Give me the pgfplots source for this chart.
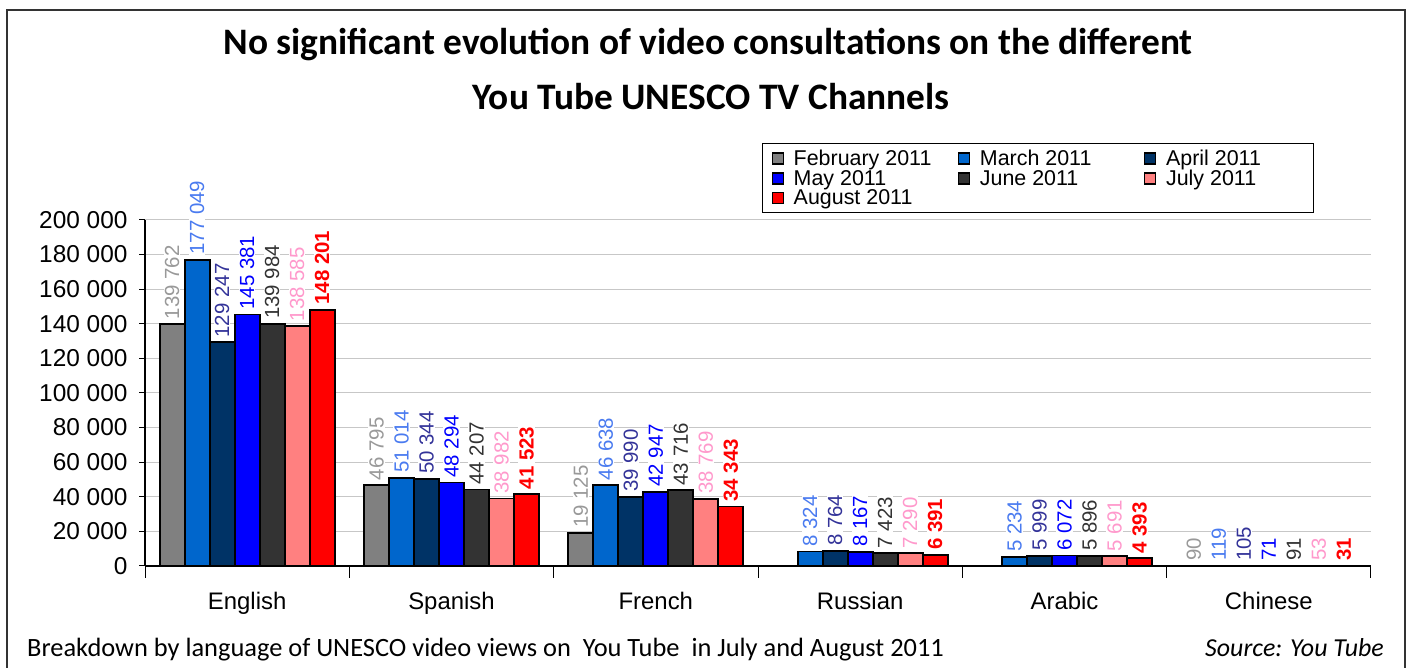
\documentclass[border=0pt]{standalone}
\usepackage{pgfplots}
\pgfplotsset{compat=1.18}
\usepackage{fontspec}
\setmainfont{Liberation Sans}
\newfontfamily\calibri{Carlito}
\definecolor{cFeb}{HTML}{808080}
\definecolor{cMar}{HTML}{0066CC}
\definecolor{cApr}{HTML}{003366}
\definecolor{cMay}{HTML}{0000FF}
\definecolor{cJun}{HTML}{333333}
\definecolor{cJul}{HTML}{FF8080}
\definecolor{cAug}{HTML}{FF0000}
\definecolor{lFeb}{HTML}{999999}
\definecolor{lMar}{HTML}{4A7BF0}
\definecolor{lApr}{HTML}{333399}
\definecolor{lMay}{HTML}{0000FF}
\definecolor{lJun}{HTML}{333333}
\definecolor{lJul}{HTML}{FF99CC}
\definecolor{lAug}{HTML}{FF0000}
\pgfkeys{/pgf/number format/.cd, fixed, precision=0, 1000 sep={\ }, assume math mode=true}
\pgfplotsset{
  mybar/.style n args={3}{
    fill=#1, draw=black, line width=1.8bp,
    nodes near coords={\pgfmathprintnumber[fixed,precision=0,1000 sep={\ },assume math mode=true]{\pgfplotspointmeta}},
    every node near coord/.append style={rotate=90, anchor=west, text=#2,
      font=\fontsize{20.5}{20.5}\selectfont#3, fill=white, inner sep=1bp, outer sep=4bp},
    legend image code/.code={\draw[##1, line width=1.2bp] (0bp,-5.5bp) rectangle (11bp,5.5bp);}
  }
}
\begin{document}
\begin{tikzpicture}[x=1bp,y=1bp]
\begin{axis}[
  at={(145bp,102bp)}, anchor=south west,
  scale only axis, width=1226bp, height=346bp,
  ymin=0, ymax=200000, xmin=-0.5, xmax=5.5,
  ybar=0pt, bar width=25bp, clip=false,
  axis x line*=bottom, axis y line*=left,
  axis line style={line width=1.2bp, black},
  ytick={0,20000,...,200000},
  scaled y ticks=false,
  yticklabel={\pgfmathprintnumber[fixed,precision=0,1000 sep={\ },assume math mode=true]{\tick}},
  yticklabel style={font=\fontsize{24.5}{24.5}\selectfont, xshift=-8bp},
  xtick={0,...,5},
  xticklabels={English,Spanish,French,Russian,Arabic,Chinese},
  xticklabel style={font=\fontsize{24}{24}\selectfont, yshift=-17bp},
  major x tick style={draw=none},
  minor xtick={-0.5,0.5,...,5.5},
  minor x tick style={black, line width=1bp},
  tick align=outside,
  major tick length=6bp, minor tick length=12bp,
  ytick style={black, line width=1bp},
  ymajorgrids, grid style={black!22, line width=1bp},
  legend columns=3,
  legend style={at={(0.5033,1.2225)}, anchor=north west, draw=black, line width=1bp,
    font=\fontsize{21.5}{21.5}\selectfont, inner xsep=9bp, inner ysep=4.5bp, row sep=-1bp,
    /tikz/every odd column/.append style={column sep=8bp},
    /tikz/every even column/.append style={column sep=0bp}},
  legend cell align=left,
]
\addplot[mybar={cFeb}{lFeb}{}] coordinates {(0,139762) (1,46795) (2,19125) (5,90)};
\addlegendentry{\makebox[162bp][l]{February 2011}}
\addplot[mybar={cMar}{lMar}{}] coordinates {(0,177049) (1,51014) (2,46638) (3,8324) (4,5234) (5,119)};
\addlegendentry{\makebox[162bp][l]{March 2011}}
\addplot[mybar={cApr}{lApr}{}] coordinates {(0,129247) (1,50344) (2,39990) (3,8764) (4,5999) (5,105)};
\addlegendentry{\makebox[136bp][l]{April 2011}}
\addplot[mybar={cMay}{lMay}{}] coordinates {(0,145381) (1,48294) (2,42947) (3,8167) (4,6072) (5,71)};
\addlegendentry{\makebox[162bp][l]{May 2011}}
\addplot[mybar={cJun}{lJun}{}] coordinates {(0,139984) (1,44207) (2,43716) (3,7423) (4,5896) (5,91)};
\addlegendentry{\makebox[162bp][l]{June 2011}}
\addplot[mybar={cJul}{lJul}{}] coordinates {(0,138585) (1,38982) (2,38769) (3,7290) (4,5691) (5,53)};
\addlegendentry{\makebox[136bp][l]{July 2011}}
\addplot[mybar={cAug}{lAug}{\bfseries}] coordinates {(0,148201) (1,41523) (2,34343) (3,6391) (4,4393) (5,31)};
\addlegendentry{\makebox[162bp][l]{August 2011}}
\end{axis}
\draw[line width=2bp, black!80] (7,-20) -- (7,658) -- (1405,658) -- (1405,-20);
\node[font=\calibri\bfseries\fontsize{37.5}{37.5}\selectfont] at (708,623) {No significant evolution of video consultations on the different};
\node[font=\calibri\bfseries\fontsize{37.5}{37.5}\selectfont] at (711,571) {You Tube UNESCO TV Channels};
\node[font=\calibri\fontsize{26.5}{26.5}\selectfont, anchor=base west, inner sep=0pt] at (27,11) {Breakdown by language of UNESCO video views on\ \ You Tube\ \ in July and August 2011};
\node[font=\calibri\itshape\fontsize{26}{26}\selectfont, anchor=base east, inner sep=0pt] at (1384,11) {Source: You Tube};
\pgfresetboundingbox
\path[use as bounding box] (0,0) rectangle (1407,668);
\end{tikzpicture}
\end{document}
